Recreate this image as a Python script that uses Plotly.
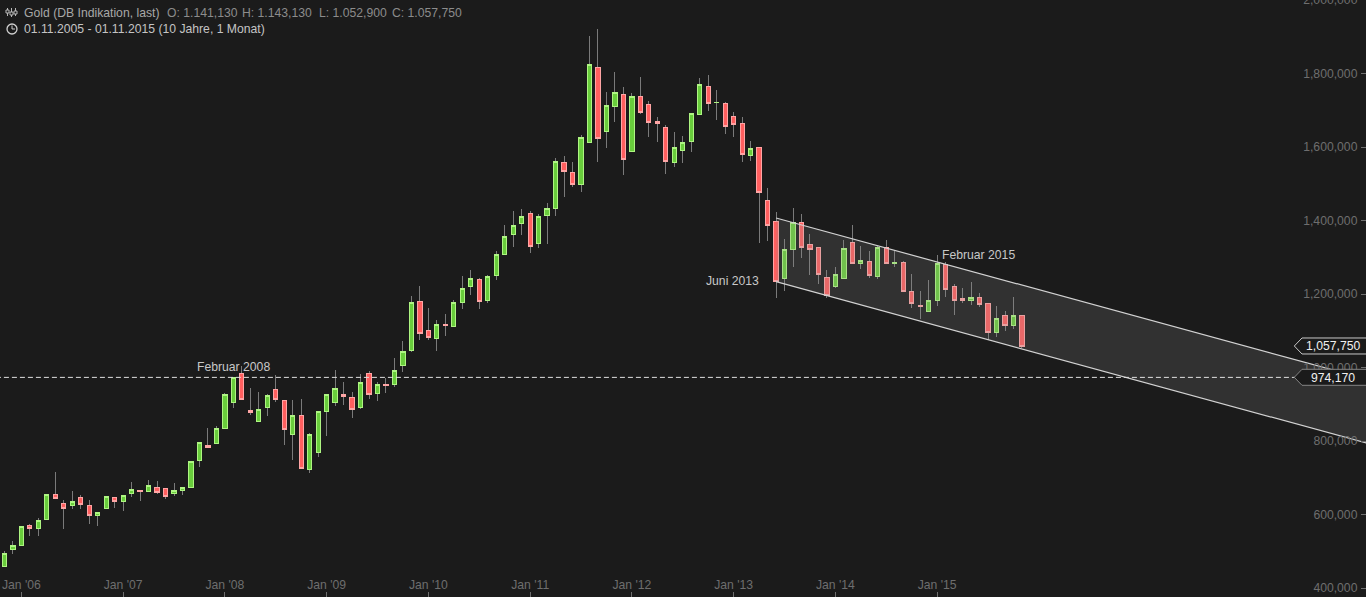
import plotly.graph_objects as go

# Monthly gold candles, Nov 2005 - Nov 2015 (values in thousands)
open_ = [458,504,515,571,561,586,655,630,624,647,625,597,616,647,635,657,666,662,674,671,
         657,665,673,747,788,793,834,904,984,883,853,891,941,911,817,870,722,768,880,904,
         927,919,891,984,929,955,953,1005,1046,1180,1101,1078,1118,1111,1176,1220,1240,1182,1250,1307,
         1361,1391,1420,1337,1413,1432,1558,1531,1497,1612,1817,1642,1710,1743,1587,1738,1716,1670,1653,1557,
         1590,1614,1688,1765,1721,1719,1683,1664,1576,1599,1455,1397,1242,1321,1395,1335,1327,1245,1220,1242,
         1341,1282,1289,1247,1327,1282,1286,1207,1169,1152,1182,1280,1221,1188,1182,1191,1175,1096,1141,1115,1141.13]
high = [501,527,568,574,590,655,716,640,664,653,640,606,649,648,652,688,666,694,691,672,
        686,674,745,796,835,841,930,973,1004,944,933,927,980,911,912,913,821,881,927,993,
        960,933,982,990,960,971,1025,1072,1194,1222,1162,1129,1146,1184,1249,1265,1243,1252,1316,1388,
        1426,1430,1426,1417,1448,1569,1575,1559,1633,1902,1921,1750,1804,1763,1746,1790,1725,1683,1659,1641,
        1630,1692,1788,1796,1755,1722,1694,1683,1616,1599,1488,1423,1350,1433,1418,1363,1327,1265,1273,1346,
        1388,1331,1317,1330,1346,1320,1289,1254,1207,1238,1305,1286,1226,1215,1232,1204,1175,1166,1155,1191,1143.13]
low = [458,493,515,541,541,586,643,560,616,616,574,569,616,618,610,648,637,662,657,643,
       650,653,673,729,782,793,834,890,912,872,853,869,907,789,748,723,714,757,814,895,
       898,862,888,914,910,931,947,988,1042,1075,1075,1045,1086,1111,1160,1197,1160,1176,1238,1307,
       1328,1360,1312,1325,1336,1413,1465,1492,1478,1612,1559,1597,1668,1525,1587,1690,1627,1613,1526,1545,
       1556,1586,1688,1698,1673,1635,1627,1559,1562,1340,1345,1190,1209,1274,1298,1252,1227,1190,1217,1242,
       1282,1268,1244,1242,1282,1273,1206,1163,1132,1152,1167,1193,1144,1176,1171,1165,1075,1084,1100,1106,1052.9]
close = [494,516,568,561,584,655,643,616,636,627,597,606,649,635,652,669,662,679,659,649,
         666,674,745,796,782,835,927,973,914,877,886,924,912,831,870,725,818,881,927,943,
         921,885,960,926,954,950,992,1044,1177,1092,1081,1117,1114,1177,1215,1243,1179,1248,1308,1357,
         1387,1411,1329,1411,1433,1561,1533,1497,1626,1825,1623,1713,1749,1566,1738,1693,1666,1663,1560,1599,
         1613,1692,1770,1718,1722,1655,1661,1579,1596,1476,1386,1233,1321,1395,1326,1321,1253,1195,1253,1324,
         1282,1292,1250,1327,1282,1286,1206,1174,1165,1183,1283,1212,1182,1182,1191,1171,1095,1134,1115,1142,1057.75]
months = list(range(len(close)))

x_tick_vals = [2,14,26,38,50,62,74,86,98,110]
x_tick_text = ["Jan '06","Jan '07","Jan '08","Jan '09","Jan '10","Jan '11","Jan '12","Jan '13","Jan '14","Jan '15"]
y_tick_vals = [400,600,800,1000,1200,1400,1600,1800,2000]
y_tick_text = ["400,000","600,000","800,000","1,000,000","1,200,000","1,400,000","1,600,000","1,800,000","2,000,000"]

channel_x = [91,161]
channel_upper = [1406.8,966]
channel_lower = [1233.5,791.9]
support_x = [-1,152.2]
support_y = [973.1,973.1]

BG = "#1b1b1b"
W, H = 1366, 597
body_open = open_
body_close = close
body_high = [max(a,b) for a,b in zip(open_,close)]
body_low = [min(a,b) for a,b in zip(open_,close)]

fig = go.Figure()
fig.add_trace(go.Candlestick(x=months, open=open_, high=high, low=low, close=close,
    increasing=dict(line=dict(color="#7a7a7a",width=1),fillcolor="#7a7a7a"),
    decreasing=dict(line=dict(color="#7a7a7a",width=1),fillcolor="#7a7a7a"),
    showlegend=False, hoverinfo="skip"))
fig.add_trace(go.Candlestick(x=months, open=body_open, high=body_high, low=body_low, close=body_close,
    increasing=dict(line=dict(color="#aef582",width=1),fillcolor="#69cd3c"),
    decreasing=dict(line=dict(color="#ffa5a5",width=1),fillcolor="#ff5f5f"),
    showlegend=False))
fig.add_trace(go.Scatter(x=channel_x+channel_x[::-1], y=channel_upper+channel_lower[::-1],
    mode="lines", fill="toself", fillcolor="rgba(140,140,140,0.2)", line=dict(width=0),
    showlegend=False, hoverinfo="skip"))
for ys in (channel_upper, channel_lower):
    fig.add_trace(go.Scatter(x=channel_x, y=ys, mode="lines",
        line=dict(color="#d2d2d2",width=1.2), showlegend=False, hoverinfo="skip"))
fig.add_trace(go.Scatter(x=support_x, y=support_y, mode="lines",
    line=dict(color="#e0e0e0",width=1,dash="5px,3px"), showlegend=False, hoverinfo="skip"))

def px(x): return x/W
def py(y): return 1-y/H
def path(pts):
    return "M "+" L ".join(f"{px(a):.5f},{py(b):.5f}" for a,b in pts)+" Z"

shapes = []
for tip_y, col in ((346,"#c8c8c8"),(377.3,"#858585")):
    shapes.append(dict(type="path", xref="paper", yref="paper",
        path=path([(1294.3,tip_y),(1302,tip_y-8),(1367,tip_y-8),(1367,tip_y+8),(1302,tip_y+8)]),
        fillcolor=BG, line=dict(color=col,width=1), layer="above"))
# clock icon
shapes.append(dict(type="circle", xref="paper", yref="paper", x0=px(7),x1=px(17),y0=py(34),y1=py(24),
    line=dict(color="#d0d0d0",width=1.3), layer="above"))
shapes.append(dict(type="path", xref="paper", yref="paper",
    path=f"M {px(12)},{py(25.5)} L {px(12)},{py(29)} L {px(15)},{py(29)}",
    line=dict(color="#d0d0d0",width=1), layer="above"))
# instrument icon
for xi,(a,b,c,d) in zip((7.5,11.5,15.5),((8,16,10,13),(8,17,12,15),(8,16,11,14))):
    shapes.append(dict(type="line", xref="paper", yref="paper", x0=px(xi),x1=px(xi),y0=py(a),y1=py(b),
        line=dict(color="#b8b8b8",width=1), layer="above"))
    shapes.append(dict(type="rect", xref="paper", yref="paper", x0=px(xi-1.5),x1=px(xi+1.5),y0=py(c),y1=py(d),
        line=dict(color="#b8b8b8",width=1), fillcolor=BG, layer="above"))

FONT = "Liberation Sans"
TS = 12.2
def note(text,x,y,color,anchor="left",size=TS):
    return dict(text=text,xref="paper",yref="paper",x=px(x),y=py(y),xanchor=anchor,yanchor="middle",
                showarrow=False,borderpad=0,font=dict(family=FONT,size=size,color=color))
def dnote(text,x,y,anchor,shift):
    return dict(text=text,xref="x",yref="y",x=x,y=y,xanchor=anchor,yanchor="middle",xshift=shift,
                showarrow=False,borderpad=0,font=dict(family=FONT,size=TS,color="#c8c8c8"))
annotations = [
    note("Gold (DB Indikation, last)",23,13.2,"#a8a8a8"),
    note("O: 1.141,130",165.5,13.2,"#8c8c8c"),
    note("H: 1.143,130",241,13.2,"#8c8c8c"),
    note("L: 1.052,900",317.5,13.2,"#8c8c8c"),
    note("C: 1.057,750",391.5,13.2,"#8c8c8c"),
    note("01.11.2005 - 01.11.2015 (10 Jahre, 1 Monat)",23,28.5,"#c4c4c4"),
    dnote("Februar 2008",27,1001,"center",0),
    dnote("Juni 2013",91,1235,"right",-16),
    dnote("Februar 2015",111,1306,"left",-5),
    note("1,057,750",1333,346,"#f0f0f0","center"),
    note("974,170",1332.5,377.5,"#f0f0f0","center"),
]

fig.update_layout(width=W, height=H, autosize=False,
    margin=dict(l=0,r=0,t=0,b=0,pad=0,autoexpand=False), paper_bgcolor=BG, plot_bgcolor=BG,
    boxgap=0.5, boxgroupgap=0, boxmode="overlay", showlegend=False, dragmode=False,
    shapes=shapes, annotations=annotations,
    font=dict(family=FONT,size=TS,color="#6e6e6e"),
    xaxis=dict(range=[-0.519,160.57], automargin=False, rangeslider=dict(visible=False), showgrid=False, zeroline=False,
        showline=False, tickmode="array", tickvals=x_tick_vals, ticktext=x_tick_text,
        ticks="inside", ticklen=5, tickcolor="#6e6e6e", tickwidth=1, ticklabelposition="inside",
        ticklabeloverflow="allow", tickfont=dict(family=FONT,size=TS,color="#6e6e6e"), fixedrange=True),
    yaxis=dict(range=[375.5,2000], automargin=False, side="right", showgrid=False, zeroline=False, showline=False,
        tickmode="array", tickvals=y_tick_vals, ticktext=y_tick_text,
        ticks="inside", ticklen=5, tickcolor="#6e6e6e", tickwidth=1, ticklabelposition="inside", ticklabelstandoff=3,
        ticklabeloverflow="allow", tickfont=dict(family=FONT,size=TS,color="#6e6e6e"), fixedrange=True),
)
post = ("var s=document.createElement('style');"
        "s.textContent='.boxlayer path{shape-rendering:crispEdges !important}';"
        "document.head.appendChild(s);"
        "document.documentElement.style.background='#1b1b1b';document.documentElement.style.overflow='hidden';"
        "document.body.style.margin='0';document.body.style.overflow='hidden';")
fig.write_html("out.html", config=dict(displayModeBar=False, responsive=False), post_script=post)
